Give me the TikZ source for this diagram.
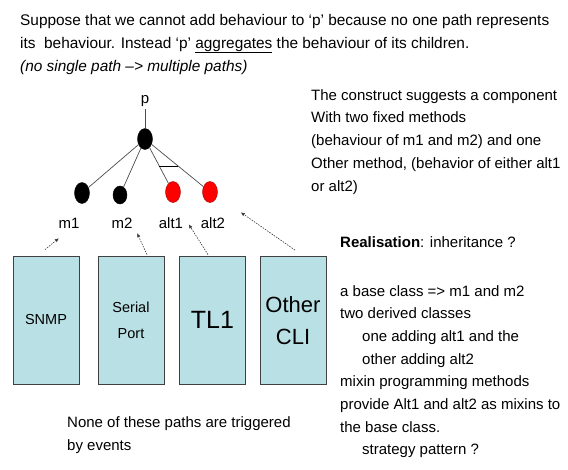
\documentclass[tikz,border=0pt]{standalone}
\usepackage{fontspec}
\setmainfont{Liberation Sans}
\usetikzlibrary{arrows.meta,calc,shapes.geometric}
\definecolor{boxfill}{RGB}{185,224,228}
\begin{document}
\begin{tikzpicture}[x=1pt,y=-1pt,
  txt/.style={anchor=base west,inner sep=0pt,font=\fontsize{15}{18}\selectfont},
  lbl/.style={anchor=base,inner sep=0pt,font=\fontsize{15}{18}\selectfont},
  dotnode/.style={ellipse,draw=black,line width=0.4pt,inner sep=0pt,minimum width=15pt,minimum height=21pt},
  edgeline/.style={draw=gray!60!black,line width=0.7pt},
  pbox/.style={rectangle,draw=gray!50!black,fill=boxfill,line width=0.8pt,minimum width=66pt,minimum height=128pt,inner sep=0pt,align=center},
  darr/.style={draw=gray!40!black,line width=0.6pt,dash pattern=on 1.5pt off 1.2pt,-{Latex[length=4pt,width=3.5pt]}}]
\useasboundingbox (0,0) rectangle (568,469);

% top text
\node[txt,font=\fontsize{15.4}{18}\selectfont] (t1) at (20,25) {Suppose that we cannot add behaviour to ‘p’ because no one path represents};
\node[txt,font=\fontsize{15.4}{18}\selectfont] (t2) at (20,48) {its\ \ behaviour. Instead ‘p’ \underline{aggregates} the behaviour of its children.};
\node[txt,font=\fontsize{15.4}{18}\selectfont] (t3) at (20,71) {\itshape (no single path –> multiple paths)};

% tree
\node[lbl] (p) at (145,103) {p};
\node[dotnode,fill=black] (top) at (145,139) {};
\node[dotnode,fill=black] (m1n) at (82,193) {};
\node[dotnode,fill=black,minimum width=14pt,minimum height=18pt] (m2n) at (120,195) {};
\node[dotnode,fill=red,draw=red!60!black] (a1n) at (173,192) {};
\node[dotnode,fill=red,draw=red!60!black] (a2n) at (210,192) {};
\draw[edgeline,shorten <=3pt] (p.south) -- (top);
\draw[edgeline] (top) -- (m1n);
\draw[edgeline] (top) -- (m2n);
\draw[edgeline] (top) -- (a1n);
\draw[edgeline] (top) -- (a2n);
\draw[edgeline,draw=black] ($(top)!0.51!(a1n)$) -- ($(top)!0.51!(a2n)$);

\node[lbl] (m1l) at (69,228) {m1};
\node[lbl] (m2l) at (122,228) {m2};
\node[lbl] (a1l) at (171,228) {alt1};
\node[lbl] (a2l) at (213,228) {alt2};

% boxes
\node[pbox,font=\fontsize{14.5}{17}\selectfont] (snmp) at (46,320) {SNMP};
\node[pbox,font=\fontsize{14.5}{26}\selectfont] (serial) at (131,320) {Serial\\Port};
\node[pbox,font=\fontsize{25}{30}\selectfont] (tl1) at (212.5,320) {TL1};
\node[pbox,font=\fontsize{22}{32}\selectfont] (cli) at (293,320.5) {Other\\CLI};

% dotted arrows
\draw[darr] ($(snmp.north)+(-1,-6)$) -- ($(m1l.south west)+(0.5,10)$);
\draw[darr] ($(serial.north)+(16,-1)$) -- ($(m2l.south east)+(4.5,5)$);
\draw[darr] ($(tl1.north)+(-4.5,-1)$) -- ($(a1l.south east)+(5.5,-4)$);
\draw[darr] ($(cli.north)+(2,-6)$) -- ($(a2l.south east)+(15.5,-16)$);

% right text
\node[txt] (r1) at (311,100) {The construct suggests a component};
\node[txt] (r2) at (311,122.8) {With two fixed methods};
\node[txt] (r3) at (311,145.6) {(behaviour of m1 and m2) and one};
\node[txt] (r4) at (311,168.4) {Other method, (behavior of either alt1};
\node[txt] (r5) at (311,191.2) {or alt2)};

\node[txt] (real) at (340,247) {\textbf{Realisation}: inheritance ?};
\node[txt] (b1) at (340,296) {a base class => m1 and m2};
\node[txt] (b2) at (340,318.7) {two derived classes};
\node[txt] (b3) at (362,341.4) {one adding alt1 and the};
\node[txt] (b4) at (362,364.1) {other adding alt2};
\node[txt] (b5) at (340,386.8) {mixin programming methods};
\node[txt] (b6) at (340,409.5) {provide Alt1 and alt2 as mixins to};
\node[txt] (b7) at (340,432.2) {the base class.};
\node[txt] (b8) at (362,454.9) {strategy pattern ?};

% bottom left text
\node[txt] (n1) at (67,427) {None of these paths are triggered};
\node[txt] (n2) at (67,450) {by events};
\end{tikzpicture}
\end{document}
